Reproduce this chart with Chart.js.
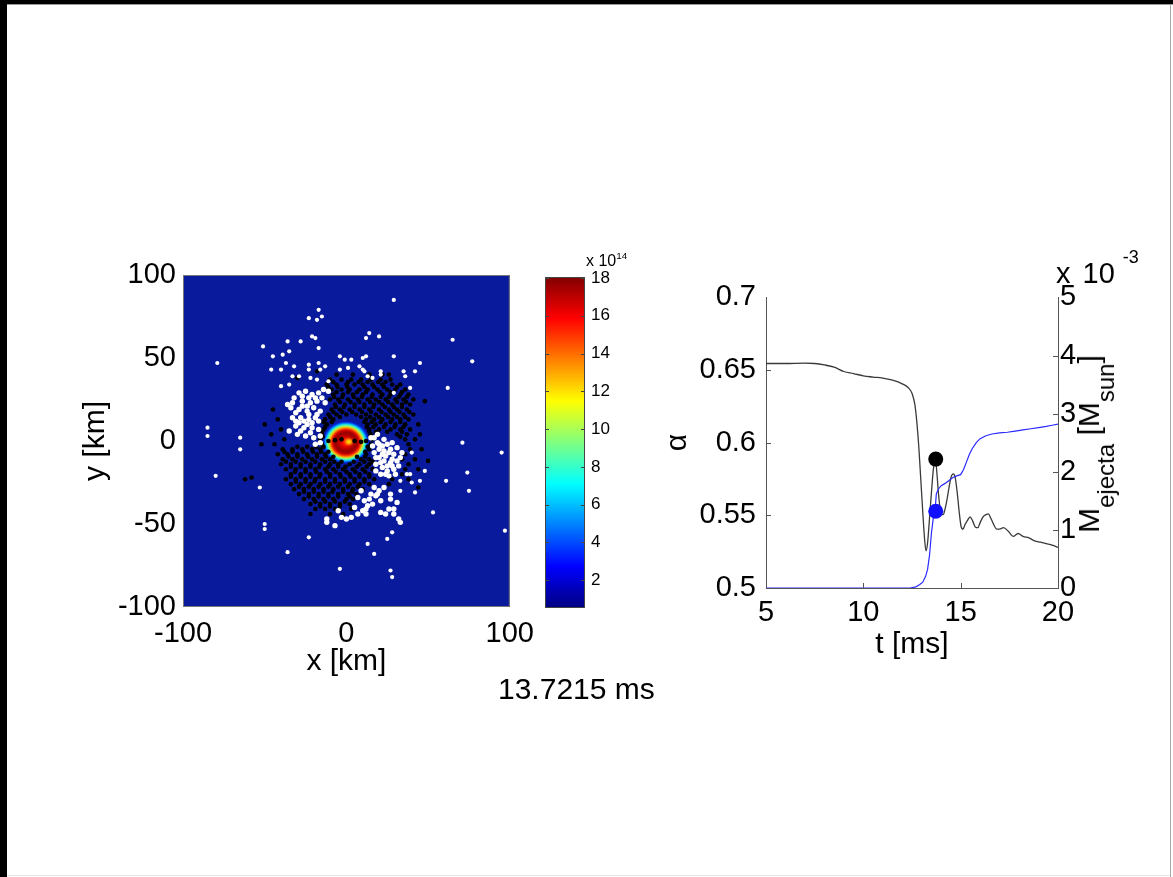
<!DOCTYPE html>
<html>
<head>
<meta charset="utf-8">
<script src="https://cdn.jsdelivr.net/npm/chart.js@4/dist/chart.umd.min.js"></script>
<style>
html,body{margin:0;padding:0;background:#fff;}
#frame{position:relative;width:1173px;height:877px;overflow:hidden;background:#fff;font-family:"Liberation Sans",Arial,sans-serif;color:#000;}
canvas{position:absolute;}
.blk{position:absolute;background:#000;}
.lbl{position:absolute;white-space:nowrap;line-height:1;}
.lbl sup{font-size:62%;vertical-align:0;position:relative;top:-0.75em;}
#mlab sub{font-size:80%;vertical-align:0;position:relative;top:0.62em;}
</style>
</head>
<body>
<div id="frame">
  <div class="blk" style="left:0;top:0;width:1173px;height:4px"></div>
  <div class="blk" style="left:0;top:0;width:7px;height:877px"></div>
  <div style="position:absolute;left:7px;top:4px;width:1166px;height:1px;background:#999"></div>
  <div style="position:absolute;left:1170px;top:4px;width:1px;height:873px;background:#aaa"></div>
  <div style="position:absolute;left:7px;top:875px;width:1163px;height:1px;background:#e4e4e4"></div>

  <canvas id="map" width="466" height="430" style="left:78px;top:250px"></canvas>
  <canvas id="cbar" width="120" height="378" style="left:520px;top:250px"></canvas>
  <canvas id="ts" width="460" height="393" style="left:660px;top:270px"></canvas>

  <div class="lbl" style="left:586px;top:253px;font-size:16px">x 10<sup>14</sup></div>
  <div class="lbl" style="left:1056px;top:259px;font-size:29px">x<span style="margin-left:12px">10</span><sup style="margin-left:8px;top:-1.1em">-3</sup></div>
  <div class="lbl" style="left:498px;top:674px;font-size:30px">13.7215 ms</div>
  <div class="lbl" id="mlab" style="left:1089px;top:444px;font-size:30px;transform:translate(-50%,-50%) rotate(-90deg)">M<sub>ejecta</sub> [M<sub>sun</sub>]</div>
</div>

<script>
// ---- left panel: density map + tracer particles (km) ----
const mapTicksX = [-100, 0, 100];
const mapTicksY = [-100, -50, 0, 50, 100];

// colour bar (density, x 10^14)
const cbTicks = [2, 4, 6, 8, 10, 12, 14, 16, 18];
const cbMin = 0.53, cbMax = 18.05;

// radial density profile of the central object (radius km -> density x 1e14)
const blobCenter = [-0.3, -0.8];
const blobRadius  = [13.6, 13.0, 12.4, 11.8, 11.2, 10.7, 10.2, 9.6, 8.9, 7.9, 5.0, 3.0];
const blobDensity = [3.0, 4.8, 6.3, 7.5, 8.8, 10.5, 12.2, 14.0, 15.8, 17.6, 16.8, 15.6];
const spotCenter = [1.5, -0.5];
const spotRadius  = [1.8, 0.8];
const spotDensity = [13.0, 11.5];

const whiteScattered = [
  [29,85],[-17,79],[-23,74],[-18,73],[-15,75],[-21,63],[-19,62],[14,65],[12,62],[20,63],
  [-36,60],[-28,60],[-51,57],[65,61],[-35,54],[-17,56],[-45,51],[-39,52],[-79,47],[77,48],
  [-4,51],[-1,49],[3,49],[10,50],[12,51],[29,51],[-32,45],[-37,47],[-40,43],[-46,43],
  [-23,46],[-23,43],[-17,47],[-13,45],[-16,43],[-4,43],[1,44],[8,45],[10,43],[11,42],
  [21,42],[21,40],[35,42],[36,39],[42,42],[45,47],[-33,39],[-29,39],[-22,38],[-18,37],
  [-11,36],[13,39],[16,38],[62,32],[39,32],[29,29],[-40,33],[-35,34],
  [-85,8],[-85,3],[-65,2],[-65,-5],[-80,-21],[-53,-28],[71,-1],[95,-7],[74,-19],[75,-30],
  [61,-24],[53,-43],[97,-54],[-50,-50],[-50,-53],[-23,-58],[-36,-67],[13,-62],[17,-68],
  [25,-59],[28,-55],[-4,-77],[27,-78],[28,-82],
  [40,-7],[39,-20],[37,-20],[48,-18],[45,-24],[40,-25],[42,-31],[33,-30],[33,-24]
];
const whiteClumps = [
  // below the core
  [-12,-47],[-7,-51],[-3,-46],[0,-47],[3,-46],[-5,-42],[7,-44],[12,-41],[12,-44],[11,-36],
  [15,-32],[17,-28],[19,-32],[21,-36],[23,-28],[16,-38],[7,-34],[9,-30],[29,-41],[29,-44],
  [32,-47],[33,-49],[26,-41],[24,-44],[21,-43],[-12,-49],[27,-32],[27,-35],[31,-37],
  [14,-35],[18,-33],[20,-30],[13,-39],[10,-42],[5,-40],
  // right of the core
  [17,2],[19,-1],[22,-3],[25,-2],[28,-1],[23,-6],[26,-7],[29,-8],[20,-10],[23,-12],
  [27,-13],[31,-12],[22,-16],[25,-18],[29,-17],[32,-15],[21,-20],[26,-21],[18,-14],[17,-7],
  [31,-4],[34,-7],[19,4],[15,2],[23,1],[27,-5],[22,-8],[30,-20],[28,-11],[16,-3],
  [20,-5],[24,-9],[18,-18],[33,-10],[21,-13],[25,-15],[18,-10],[20,-2],[24,-20],[28,-15],
  // upper left of the core
  [-29,29],[-25,30],[-21,28],[-17,29],[-14,31],[-32,26],[-27,24],[-22,23],[-18,24],[-15,26],
  [-34,20],[-29,19],[-24,18],[-20,20],[-33,14],[-28,14],[-23,13],[-19,14],[-31,9],[-26,8],
  [-21,8],[-17,7],[-30,4],[-25,3],[-20,2],[-16,-1],[-19,-2],[-35,6],[-36,22],[-11,30],
  [-23,16],[-26,12],[-17,12],[-22,5],[-33,23],[-27,27],[-31,17],[-24,21],[-29,11],[-21,11],
  [-16,18],[-13,23],[-16,3],[-19,26],[-23,26],[-27,21],[-31,12],[-24,10],[-18,16],[-28,6]
];
const blackParticles = [
  [-6,40],[4,40],[14,40],[22,40],
  [-10,37],[-3,37],[3,37],[9,37],[15,37],[21,37],[27,37],
  [-12,34],[-6,34],[0,34],[5,34],[10,34],[16,34],[22,34],[28,34],[33,34],
  [-9,31],[-3,31],[2,31],[8,31],[13,31],[19,31],[25,31],[30,31],[36,31],
  [-8,28],[-2,28],[4,28],[10,28],[16,28],[22,28],[27,28],[33,28],[38,28],
  [-10,25],[-5,25],[1,25],[7,25],[13,25],[18,25],[24,25],[30,25],[35,25],[41,25],
  [-7,22],[-1,22],[5,22],[11,22],[17,22],[22,22],[28,22],[34,22],[39,22],
  [-9,19],[-4,19],[2,19],[8,19],[14,19],[20,19],[26,19],[31,19],[37,19],[-45,19],
  [-11,16],[-6,16],[0,16],[6,16],[12,16],[18,16],[24,16],[29,16],[35,16],[41,16],
  [-13,13],[-8,13],[12,13],[17,13],[22,13],[28,13],[33,13],[38,13],[-42,13],
  [-12,10],[13,10],[18,10],[24,10],[30,10],[36,10],[44,10],
  [-14,7],[14,7],[20,7],[27,7],[33,7],[39,7],[-40,7],
  [-15,4],[15,4],[31,4],[37,4],[45,4],[-46,4],
  [-16,1],[16,1],[36,1],[42,1],[-38,1],
  [-15,-2],[15,-2],[38,-2],[-44,-2],[-52,-2],
  [-16,-5],[-21,-5],[-27,-5],[-33,-5],[-39,-5],[14,-5],[39,-5],[46,-5],
  [-13,-8],[-18,-8],[-24,-8],[-30,-8],[-36,-8],[-42,-8],[12,-8],[36,-8],
  [-10,-11],[-15,-11],[-21,-11],[-27,-11],[-33,-11],[-39,-11],[9,-11],[14,-11],[34,-11],[42,-11],
  [-5,-14],[-10,-14],[-16,-14],[-22,-14],[-28,-14],[-34,-14],[-40,-14],[2,-14],[8,-14],[14,-14],[38,-14],
  [-2,-17],[-8,-17],[-13,-17],[-19,-17],[-25,-17],[-31,-17],[-37,-17],[4,-17],[10,-17],[16,-17],[36,-17],[44,-17],
  [-4,-20],[-10,-20],[-16,-20],[-22,-20],[-28,-20],[-34,-20],[2,-20],[8,-20],[14,-20],[34,-20],
  [-1,-23],[-7,-23],[-13,-23],[-19,-23],[-25,-23],[-31,-23],[-37,-23],[5,-23],[11,-23],[17,-23],[28,-23],[38,-23],
  [-4,-26],[-10,-26],[-16,-26],[-22,-26],[-28,-26],[-34,-26],[2,-26],[8,-26],[14,-26],[26,-26],
  [-2,-29],[-8,-29],[-14,-29],[-20,-29],[-26,-29],[-32,-29],[4,-29],[10,-29],
  [-5,-32],[-11,-32],[-17,-32],[-23,-32],[-29,-32],[1,-32],[6,-32],
  [-8,-35],[-14,-35],[-20,-35],[-26,-35],[0,-35],[4,-35],
  [-4,-38],[-10,-38],[-16,-38],[-22,-38],[2,-38],
  [-7,-41],[-13,-41],[-19,-41],[3,-41],
  [-10,-44],[-2,-44],
  [-58,-22],[-62,-23],[-22,-44],[48,24],[-30,38],[-18,42],[26,40],[44,-28],[-50,10],[50,-12],
  [-11,0],[-7,0.5],[-3,1],[5,0],[9,-0.5],[12,0]
];
// second, offset layer of particles filling the inner halo
const blackInner = [
  [-8,35.5],[1,35.5],[7.5,35.5],[13,35.5],[19.5,35.5],[24,35.5],
  [-11,32.5],[-5.5,32.5],[0.5,32.5],[11,32.5],[17,32.5],[23,32.5],[31,32.5],
  [-6,29.5],[1,29.5],[6.5,29.5],[12,29.5],[20.5,29.5],[27,29.5],[34,29.5],
  [-7.5,26.5],[-2.5,26.5],[4.5,26.5],[9.5,26.5],[15.5,26.5],[21,26.5],[26,26.5],[32,26.5],[37,26.5],
  [-4,23.5],[2.5,23.5],[8,23.5],[14.5,23.5],[20,23.5],[25.5,23.5],[31,23.5],[36.5,23.5],
  [-6.5,20.5],[-1.5,20.5],[5,20.5],[11,20.5],[16.5,20.5],[23.5,20.5],[29,20.5],[34,20.5],
  [-8,17.5],[-2.5,17.5],[3.5,17.5],[9.5,17.5],[15,17.5],[21.5,17.5],[27,17.5],[32.5,17.5],[38.5,17.5],
  [-10,14.5],[-4,14.5],[9,14.5],[14.5,14.5],[20,14.5],[25.5,14.5],[31,14.5],[36,14.5],
  [-14,11.5],[-9,11.5],[11,11.5],[15.5,11.5],[21,11.5],[27,11.5],[33,11.5],
  [-13,8.5],[12.5,8.5],[16.5,8.5],[23,8.5],[29.5,8.5],[35,8.5],
  [-15,5.5],[14,5.5],[18,5.5],[25,5.5],[34,5.5],
  [-14.5,2.5],[14.5,2.5],[33,2.5],
  [-14,-3.5],[-18.5,-3.5],[-24,-3.5],[-30,-3.5],[13,-3.5],
  [-11,-6.5],[-15.5,-6.5],[-20.5,-6.5],[-26.5,-6.5],[-33,-6.5],[-38,-6.5],[11.5,-6.5],
  [-8,-9.5],[-12.5,-9.5],[-18,-9.5],[-23.5,-9.5],[-30,-9.5],[-35.5,-9.5],[6.5,-9.5],[11.5,-9.5],
  [-3,-12.5],[-7.5,-12.5],[-13,-12.5],[-19,-12.5],[-25,-12.5],[-31,-12.5],[-37,-12.5],[4.5,-12.5],[11,-12.5],[16,-12.5],
  [-0.5,-15.5],[-5,-15.5],[-11,-15.5],[-16.5,-15.5],[-22,-15.5],[-28,-15.5],[-34,-15.5],[6.5,-15.5],[12.5,-15.5],
  [-6.5,-18.5],[-12,-18.5],[-18.5,-18.5],[-25,-18.5],[-31.5,-18.5],[0,-18.5],[5.5,-18.5],[11.5,-18.5],
  [-3.5,-21.5],[-10,-21.5],[-16.5,-21.5],[-22,-21.5],[-28,-21.5],[-34,-21.5],[2.5,-21.5],[8,-21.5],[14,-21.5],
  [-1,-24.5],[-7,-24.5],[-13,-24.5],[-19.5,-24.5],[-25,-24.5],[-31,-24.5],[5,-24.5],[11,-24.5],
  [-5,-27.5],[-11,-27.5],[-17,-27.5],[-23,-27.5],[-29,-27.5],[1,-27.5],[7,-27.5],
  [-2,-30.5],[-8.5,-30.5],[-14,-30.5],[-20,-30.5],[-26,-30.5],[3.5,-30.5],
  [-5,-33.5],[-11,-33.5],[-17,-33.5],[-23,-33.5],[2,-33.5],
  [-1,-36.5],[-7,-36.5],[-13,-36.5],[-19,-36.5],
  [-4,-39.5],[-10,-39.5],[-16,-39.5]
];

// ---- right panel: lapse alpha and ejected mass vs time ----
const tTicks = [5, 10, 15, 20];
const alphaTicks = [0.5, 0.55, 0.6, 0.65, 0.7];
const massTicks = [0, 1, 2, 3, 4, 5];

const alphaT = [5, 6, 7, 7.5, 8, 8.5, 9, 9.5, 10, 10.5, 11, 11.5, 12, 12.3, 12.5, 12.65, 12.75, 12.85, 12.95, 13.05,
  13.15, 13.22, 13.3, 13.4, 13.5, 13.6, 13.7, 13.78, 13.86, 13.94, 14.02, 14.1, 14.2, 14.3, 14.4, 14.5, 14.62, 14.72,
  14.82, 14.92, 15.02, 15.12, 15.22, 15.35, 15.48, 15.62, 15.75, 15.88, 16.0, 16.15, 16.3, 16.42, 16.55, 16.7, 16.85,
  17.0, 17.2, 17.45, 17.7, 17.95, 18.2, 18.5, 18.8, 19.1, 19.4, 19.7, 20];
const alphaV = [0.6545, 0.6545, 0.6548, 0.6545, 0.6535, 0.652, 0.649, 0.6476, 0.646, 0.6452, 0.6445, 0.643, 0.6405,
  0.638, 0.634, 0.626, 0.614, 0.597, 0.575, 0.553, 0.533, 0.5255, 0.531, 0.548, 0.566, 0.582, 0.5887, 0.579, 0.565,
  0.555, 0.5505, 0.5505, 0.5545, 0.561, 0.569, 0.576, 0.5785, 0.576, 0.566, 0.553, 0.5425, 0.5405, 0.5435, 0.5465,
  0.549, 0.546, 0.542, 0.5415, 0.545, 0.549, 0.5505, 0.551, 0.548, 0.5435, 0.5405, 0.5405, 0.5415, 0.539, 0.5355,
  0.5375, 0.5355, 0.5345, 0.5325, 0.5315, 0.5305, 0.5295, 0.528];

const massT = [5, 12.4, 12.7, 12.9, 13.05, 13.2, 13.3, 13.4, 13.5, 13.6, 13.68, 13.75, 13.85, 14.0, 14.2, 14.4, 14.6,
  14.8, 15.0, 15.15, 15.3, 15.45, 15.6, 15.8, 16.0, 16.3, 16.6, 17.0, 17.4, 17.8, 18.2, 18.6, 19.0, 19.4, 19.7, 20];
const massV = [0, 0, 0.02, 0.06, 0.1, 0.2, 0.32, 0.56, 0.95, 1.22, 1.32, 1.62, 1.7, 1.76, 1.8, 1.85, 1.9, 1.93, 1.95,
  2.04, 2.17, 2.3, 2.4, 2.5, 2.57, 2.62, 2.65, 2.67, 2.68, 2.7, 2.72, 2.74, 2.76, 2.78, 2.8, 2.82];

const currentT = 13.72;
const currentAlpha = 0.5887;
const currentMass = 1.32;

// ---------------------------------------------------------------
const FONT = '"Liberation Sans", Arial, sans-serif';
const mapBlue = '#0a1a9c';

function jetColor(v){
    const t = Math.min(1, Math.max(0, (v - cbMin) / (cbMax - cbMin)));
    const c = u => Math.round(255 * Math.min(1, Math.max(0, u)));
    return `rgb(${c(1.5 - Math.abs(4*t - 3))},${c(1.5 - Math.abs(4*t - 2))},${c(1.5 - Math.abs(4*t - 1))})`;
}

const pts = arr => arr.map(p => ({x: p[0], y: p[1]}));
const xy = (xs, ys) => xs.map((x, i) => ({x, y: ys[i]}));
const fixTicks = vals => s => { s.ticks = vals.map(v => ({value: v})); };

const mapPlugin = {
    id: 'mapfield',
    beforeDatasetsDraw(chart){
        const {ctx, chartArea: a, scales: {x, y}} = chart;
        ctx.save();
        ctx.fillStyle = mapBlue;
        ctx.fillRect(a.left, a.top, a.width, a.height);
        ctx.beginPath(); ctx.rect(a.left, a.top, a.width, a.height); ctx.clip();
        const kx = x.getPixelForValue(1) - x.getPixelForValue(0);
        const ky = y.getPixelForValue(0) - y.getPixelForValue(1);
        ctx.filter = 'blur(1px)';
        const cx = x.getPixelForValue(blobCenter[0]), cy = y.getPixelForValue(blobCenter[1]);
        blobRadius.forEach((r, i) => {
            ctx.fillStyle = jetColor(blobDensity[i]);
            ctx.beginPath();
            ctx.ellipse(cx, cy, r * kx, r * ky * 0.9, 0, 0, Math.PI * 2);
            ctx.fill();
        });
        const sx = x.getPixelForValue(spotCenter[0]), sy = y.getPixelForValue(spotCenter[1]);
        spotRadius.forEach((r, i) => {
            ctx.fillStyle = jetColor(spotDensity[i]);
            ctx.beginPath();
            ctx.ellipse(sx, sy, r * kx * 1.3, r * ky, 0, 0, Math.PI * 2);
            ctx.fill();
        });
        ctx.restore();
    },
    afterDraw(chart){
        const {ctx, chartArea: a} = chart;
        ctx.save();
        ctx.strokeStyle = '#777';
        ctx.lineWidth = 1;
        ctx.strokeRect(a.left + 0.5, a.top + 0.5, a.width - 1, a.height - 1);
        ctx.restore();
    }
};

new Chart(document.getElementById('map'), {
    type: 'scatter',
    data: {datasets: [
        {data: pts(whiteScattered), backgroundColor: '#fff', pointRadius: 2.1, pointBorderWidth: 0},
        {data: pts(whiteClumps), backgroundColor: '#fff', pointRadius: 2.7, pointBorderWidth: 0},
        {data: pts(blackParticles.concat(blackInner)), backgroundColor: '#000', pointRadius: 2.3, pointBorderWidth: 0}
    ]},
    options: {
        responsive: false, animation: false,
        layout: {padding: {top: 25, right: 30, left: 0, bottom: 0}},
        plugins: {legend: {display: false}, tooltip: {enabled: false}},
        scales: {
            x: {type: 'linear', min: -100, max: 100,
                grid: {display: false, drawTicks: false}, border: {display: false},
                afterBuildTicks: fixTicks(mapTicksX), afterFit: s => { s.height = 73; },
                ticks: {font: {family: FONT, size: 29}, color: '#000', padding: 10, maxRotation: 0, autoSkip: false, callback: v => String(v)},
                title: {display: true, text: 'x [km]', font: {family: FONT, size: 30}, color: '#000', padding: 0}},
            y: {type: 'linear', min: -100, max: 100,
                grid: {display: false, drawTicks: false}, border: {display: false},
                afterBuildTicks: fixTicks(mapTicksY), afterFit: s => { s.width = 105; },
                ticks: {font: {family: FONT, size: 29}, color: '#000', padding: 7, autoSkip: false, callback: v => String(v)},
                title: {display: true, text: 'y [km]', font: {family: FONT, size: 30}, color: '#000', padding: 0}}
        }
    },
    plugins: [mapPlugin]
});

// ---- colour bar ----
const cbarPlugin = {
    id: 'cbar',
    beforeDatasetsDraw(chart){
        const {ctx, chartArea: a, scales: {y}} = chart;
        const g = ctx.createLinearGradient(0, y.getPixelForValue(cbMin), 0, y.getPixelForValue(cbMax));
        [0, 0.125, 0.375, 0.625, 0.875, 1].forEach(t => g.addColorStop(t, jetColor(cbMin + t * (cbMax - cbMin))));
        ctx.save();
        ctx.fillStyle = g;
        ctx.fillRect(a.left, a.top, a.width, a.height);
        ctx.strokeStyle = '#444';
        ctx.lineWidth = 1;
        ctx.strokeRect(a.left + 0.5, a.top + 0.5, a.width - 1, a.height - 1);
        ctx.beginPath();
        cbTicks.forEach(v => {
            const py = Math.round(y.getPixelForValue(v)) + 0.5;
            ctx.moveTo(a.left, py); ctx.lineTo(a.left + 4, py);
            ctx.moveTo(a.right - 4, py); ctx.lineTo(a.right, py);
        });
        ctx.stroke();
        ctx.restore();
    }
};

new Chart(document.getElementById('cbar'), {
    type: 'bar',
    data: {labels: [''], datasets: [{data: []}]},
    options: {
        responsive: false, animation: false,
        layout: {padding: {top: 27, left: 25, right: 0, bottom: 20}},
        plugins: {legend: {display: false}, tooltip: {enabled: false}},
        scales: {
            x: {display: false},
            y: {position: 'right', min: cbMin, max: cbMax,
                grid: {display: false, drawTicks: false}, border: {display: false},
                afterBuildTicks: fixTicks(cbTicks), afterFit: s => { s.width = 55; },
                ticks: {font: {family: FONT, size: 17}, color: '#000', padding: 6, autoSkip: false, callback: v => String(v)}}
        }
    },
    plugins: [cbarPlugin]
});

// ---- time series ----
const tickMarks = {
    id: 'inticks',
    afterDraw(chart){
        const {ctx, chartArea: a, scales} = chart;
        ctx.save();
        ctx.strokeStyle = '#555';
        ctx.lineWidth = 1;
        ctx.beginPath();
        alphaTicks.slice(1, -1).forEach(v => {
            const py = Math.round(scales.y.getPixelForValue(v)) + 0.5;
            ctx.moveTo(a.left, py); ctx.lineTo(a.left + 5, py);
        });
        massTicks.slice(1, -1).forEach(v => {
            const py = Math.round(scales.y2.getPixelForValue(v)) + 0.5;
            ctx.moveTo(a.right - 5, py); ctx.lineTo(a.right, py);
        });
        tTicks.slice(1, -1).forEach(v => {
            const px = Math.round(scales.x.getPixelForValue(v)) + 0.5;
            ctx.moveTo(px, a.bottom); ctx.lineTo(px, a.bottom - 5);
        });
        ctx.stroke();
        ctx.restore();
    }
};

const axisFont = {family: FONT, size: 29};
new Chart(document.getElementById('ts'), {
    type: 'scatter',
    data: {datasets: [
        {data: [{x: currentT, y: currentAlpha}], yAxisID: 'y', backgroundColor: '#000', pointRadius: 7.5, pointBorderWidth: 0},
        {data: [{x: currentT, y: currentMass}], yAxisID: 'y2', backgroundColor: '#1010ff', pointRadius: 7.5, pointBorderWidth: 0},
        {data: xy(massT, massV), yAxisID: 'y2', showLine: true, borderColor: '#2a2aff', borderWidth: 1.2, pointRadius: 0},
        {data: xy(alphaT, alphaV), yAxisID: 'y', showLine: true, borderColor: '#3a3a3a', borderWidth: 1.3, pointRadius: 0,
         cubicInterpolationMode: 'monotone'}
    ]},
    options: {
        responsive: false, animation: false,
        layout: {padding: {top: 27, right: 12, left: 0, bottom: 0}},
        plugins: {legend: {display: false}, tooltip: {enabled: false}},
        scales: {
            x: {type: 'linear', min: 5, max: 20,
                grid: {display: false, drawTicks: false}, border: {display: true, color: '#555', width: 1},
                afterBuildTicks: fixTicks(tTicks), afterFit: s => { s.height = 75; },
                ticks: {font: axisFont, color: '#000', padding: 8, maxRotation: 0, autoSkip: false, callback: v => String(v)},
                title: {display: true, text: 't [ms]', font: {family: FONT, size: 30}, color: '#000', padding: 0}},
            y: {type: 'linear', position: 'left', min: 0.5, max: 0.7,
                grid: {display: false, drawTicks: false}, border: {display: true, color: '#555', width: 1},
                afterBuildTicks: fixTicks(alphaTicks), afterFit: s => { s.width = 106; },
                ticks: {font: axisFont, color: '#000', padding: 10, autoSkip: false, callback: v => String(v)},
                title: {display: true, text: 'α', font: {family: FONT, size: 30}, color: '#000', padding: 0}},
            y2: {type: 'linear', position: 'right', min: 0, max: 5,
                grid: {display: false, drawTicks: false}, border: {display: true, color: '#555', width: 1},
                afterBuildTicks: fixTicks(massTicks), afterFit: s => { s.width = 50; },
                ticks: {font: axisFont, color: '#000', padding: 2, autoSkip: false, callback: v => String(v)}}
        }
    },
    plugins: [tickMarks]
});
</script>
</body>
</html>
